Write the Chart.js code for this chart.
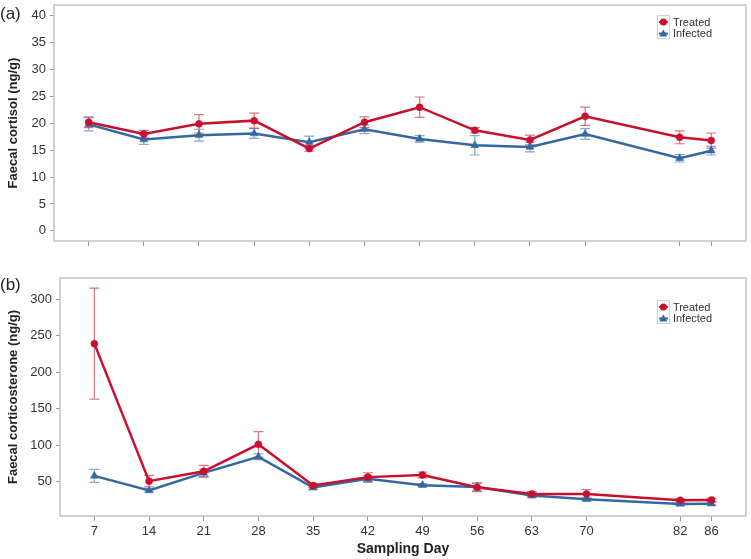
<!DOCTYPE html>
<html>
<head>
<meta charset="utf-8">
<script src="https://cdn.jsdelivr.net/npm/chart.js@4"></script>
<style>
  body { margin: 0; background: #fff; }
  #wrap { position: relative; width: 751px; height: 559px; font-family: "Liberation Sans", Arial, sans-serif; }
  .panel { position: absolute; left: 0; width: 751px; }
  .tag { position: absolute; left: 0; font-size: 17px; color: #222; }
</style>
</head>
<body>
<div id="wrap">
  <div class="panel" style="top:0;height:256px"><canvas id="cortisol" width="751" height="256"></canvas></div>
  <div class="panel" style="top:262px;height:297px"><canvas id="cortico" width="751" height="297"></canvas></div>
  <div class="tag" style="top:4px">(a)</div>
  <div class="tag" style="top:275px">(b)</div>
</div>
<script>
const days = [7, 14, 21, 28, 35, 42, 49, 56, 63, 70, 82, 86];

const cortisolTreated = [20.2, 18.0, 19.9, 20.5, 15.3, 20.2, 23.0, 18.7, 16.9, 21.3, 17.4, 16.8];
const cortisolTreatedErr = [1.0, 0.7, 1.7, 1.4, 0.5, 1.0, 1.9, 0.5, 0.9, 1.7, 1.2, 1.4];
const cortisolInfected = [19.8, 17.0, 17.8, 18.1, 16.5, 18.9, 17.1, 15.9, 15.6, 18.0, 13.5, 14.9];
const cortisolInfectedErr = [1.2, 0.9, 1.1, 0.9, 1.1, 0.8, 0.6, 1.8, 0.9, 1.0, 0.7, 0.8];

const corticoTreated = [239, 50.5, 64, 101, 44.5, 56, 59, 42, 33, 33, 24.3, 24.8];
const corticoTreatedErr = [76, 8, 8, 17.5, 3, 6, 4, 6, 3, 6, 2, 2];
const corticoInfected = [57.7, 37.6, 61.8, 83.8, 41.8, 53.6, 45, 42.6, 30.8, 25.7, 19.2, 19.5];
const corticoInfectedErr = [9, 2, 5, 4, 3, 5, 2, 5, 3, 2, 2, 2];

const cortisolTicks = [0, 5, 10, 15, 20, 25, 30, 35, 40];
const corticoTicks = [50, 100, 150, 200, 250, 300];
const seriesNames = ['Treated', 'Infected'];

const RED = '#c8102e';
const BLUE = '#3468a0';
const RED_ERR = 'rgba(200,40,70,0.65)';
const BLUE_ERR = 'rgba(60,110,165,0.6)';
const FONT = '"Liberation Sans", Arial, sans-serif';

const points = vals => vals.map((v, i) => ({ x: days[i], y: v }));

// no extra room for end labels, the box is placed by hand
const noPad = s => { s.paddingTop = 0; s.paddingBottom = 0; s.paddingLeft = 0; s.paddingRight = 0; };

// error bars drawn under the lines, from the chart's own scales
const errorBars = {
  id: 'errorBars',
  beforeDatasetsDraw(chart, args, opts) {
    const { ctx, scales: { x, y } } = chart;
    chart.data.datasets.forEach((ds, i) => {
      const errs = opts.errors[i];
      ctx.save();
      ctx.strokeStyle = opts.colors[i];
      ctx.lineWidth = 1.2;
      ds.data.forEach((p, j) => {
        const px = x.getPixelForValue(p.x);
        const t = y.getPixelForValue(p.y + errs[j]);
        const b = y.getPixelForValue(p.y - errs[j]);
        ctx.beginPath();
        ctx.moveTo(px, t); ctx.lineTo(px, b);
        ctx.moveTo(px - 5, t); ctx.lineTo(px + 5, t);
        ctx.moveTo(px - 5, b); ctx.lineTo(px + 5, b);
        ctx.stroke();
      });
      ctx.restore();
    });
  },
  afterDraw(chart, args, opts) {
    const { ctx, chartArea: a } = chart;
    ctx.save();
    ctx.strokeStyle = '#c4c4c4';
    ctx.lineWidth = 1.5;
    ctx.strokeRect(a.left, a.top, a.right - a.left, a.bottom - a.top);

    // legend
    const lx = a.right - 89, ly = a.top + opts.legendTop;
    ctx.strokeStyle = '#cfcfcf';
    ctx.lineWidth = 1;
    ctx.strokeRect(lx + 0.5, ly - 6.5, 12, 23);
    chart.data.datasets.forEach((ds, i) => {
      const cy = ly + i * 11.5;
      ctx.strokeStyle = ds.borderColor;
      ctx.fillStyle = ds.borderColor;
      ctx.lineWidth = 2;
      ctx.beginPath();
      ctx.moveTo(lx + 2, cy); ctx.lineTo(lx + 11, cy);
      ctx.stroke();
      ctx.beginPath();
      if (ds.pointStyle === 'triangle') {
        ctx.moveTo(lx + 6.5, cy - 4); ctx.lineTo(lx + 10.5, cy + 3); ctx.lineTo(lx + 2.5, cy + 3);
      } else {
        ctx.arc(lx + 6.5, cy, 3.5, 0, Math.PI * 2);
      }
      ctx.fill();
      ctx.fillStyle = '#333';
      ctx.font = '11px ' + FONT;
      ctx.textBaseline = 'middle';
      ctx.fillText(ds.label, lx + 16, cy + 0.5);
    });
    ctx.restore();
  }
};

function makeChart(id, treated, tErr, infected, iErr, yTicks, yMin, yMax, yTitle, opts) {
  return new Chart(document.getElementById(id), {
    type: 'line',
    data: {
      datasets: [
        { label: seriesNames[0], data: points(treated), borderColor: RED, backgroundColor: RED,
          borderWidth: 2.5, pointStyle: 'circle', pointRadius: 3.5, pointBorderWidth: 0.5, tension: 0 },
        { label: seriesNames[1], data: points(infected), borderColor: BLUE, backgroundColor: BLUE,
          borderWidth: 2.5, pointStyle: 'triangle', pointRadius: 4.6, pointBorderWidth: 0.5, tension: 0 }
      ]
    },
    options: {
      responsive: false,
      animation: false,
      layout: { padding: { top: opts.padTop, right: 3, left: 0, bottom: 0 } },
      plugins: {
        legend: { display: false },
        tooltip: { enabled: false },
        errorBars: { errors: [tErr, iErr], colors: [RED_ERR, BLUE_ERR], legendTop: opts.legendTop }
      },
      scales: {
        x: {
          type: 'linear', min: 2.6, max: 90.4,
          afterBuildTicks: s => { s.ticks = days.map(v => ({ value: v })); },
          afterFit: s => { s.height = opts.xHeight; noPad(s); },
          grid: { drawOnChartArea: false, drawTicks: true, tickLength: 5, color: '#999' },
          border: { display: false },
          ticks: { display: opts.showX, color: '#333', padding: 3, font: { size: 13, family: FONT }, maxRotation: 0,
                   callback: v => String(v) },
          title: { display: opts.showX, text: 'Sampling Day', color: '#222', padding: { top: 0, bottom: 1 },
                   font: { size: 14, weight: 'bold', family: FONT } }
        },
        y: {
          min: yMin, max: yMax,
          afterBuildTicks: s => { s.ticks = yTicks.map(v => ({ value: v })); },
          afterFit: s => { s.width = opts.yWidth; noPad(s); },
          grid: { drawOnChartArea: false, drawTicks: true, tickLength: 4, color: '#999' },
          border: { display: false },
          ticks: { color: '#333', padding: 4, font: { size: 13, family: FONT } },
          title: { display: true, text: yTitle, color: '#222', padding: { top: 6, bottom: 0 },
                   font: { size: 13, weight: 'bold', family: FONT } }
        }
      }
    },
    plugins: [errorBars]
  });
}

makeChart('cortisol', cortisolTreated, cortisolTreatedErr, cortisolInfected, cortisolInfectedErr,
  cortisolTicks, -1.9, 42, 'Faecal cortisol (ng/g)',
  { padTop: 4, xHeight: 15, yWidth: 54, showX: false, legendTop: 17 });

makeChart('cortico', corticoTreated, corticoTreatedErr, corticoInfected, corticoInfectedErr,
  corticoTicks, 2.7, 329, 'Faecal corticosterone (ng/g)',
  { padTop: 16, xHeight: 43, yWidth: 60, showX: true, legendTop: 29 });
</script>
</body>
</html>
